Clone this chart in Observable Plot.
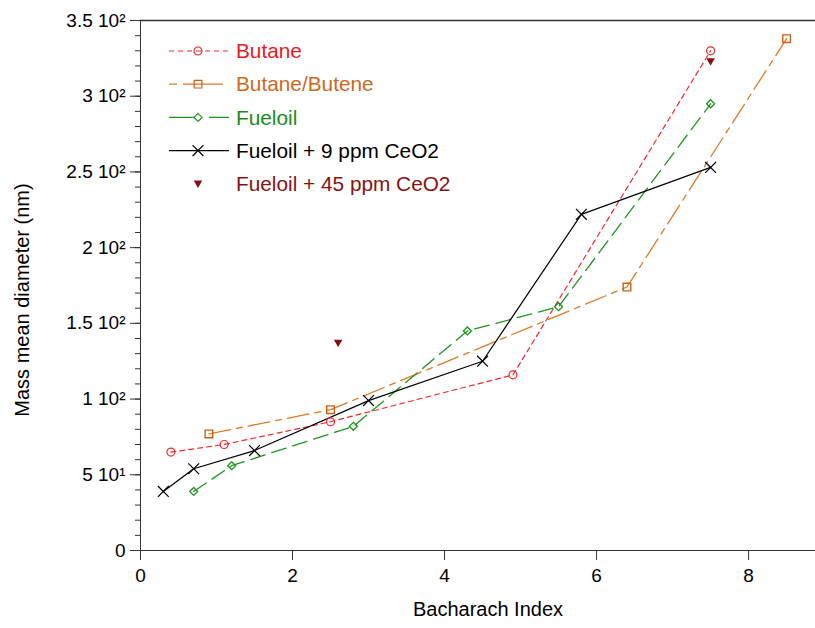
<!DOCTYPE html>
<html>
<head>
<meta charset="utf-8">
<script src="https://cdn.jsdelivr.net/npm/d3@7"></script>
<script src="https://cdn.jsdelivr.net/npm/@observablehq/plot@0.6"></script>
<style>
  body { margin: 0; background: #fff; }
  #wrap { position: relative; width: 815px; height: 628px; font-family: "Liberation Sans", Arial, sans-serif; }
  #legend { position: absolute; left: 0; top: 0; pointer-events: none; }
</style>
</head>
<body>
<div id="wrap"></div>
<script>
// ---- data ----
const seriesNames = ["Butane", "Butane/Butene", "Fueloil", "Fueloil + 9 ppm CeO2", "Fueloil + 45 ppm CeO2"];
const butaneX = [0.4, 1.1, 2.5, 4.9, 7.5];
const butaneY = [65, 70, 85, 116, 330];
const butbutX = [0.9, 2.5, 6.4, 8.5];
const butbutY = [77, 93, 174, 338];
const fueloilX = [0.7, 1.2, 2.8, 4.3, 5.5, 7.5];
const fueloilY = [39, 56, 82, 145, 161, 295];
const ceo9X = [0.3, 0.7, 1.5, 3.0, 4.5, 5.8, 7.5];
const ceo9Y = [39, 54, 66, 99, 125, 222, 253];
const ceo45X = [2.6, 7.5];
const ceo45Y = [137, 323];
const yMajorTicks = [0, 50, 100, 150, 200, 250, 300, 350];
const yTickLabels = ["0", "5 10¹", "1 10²", "1.5 10²", "2 10²", "2.5 10²", "3 10²", "3.5 10²"];
const xTicks = [0, 2, 4, 6, 8];
const xLabel = "Bacharach Index";
const yLabel = "Mass mean diameter (nm)";

const colors = {
  butane: "#f0282d",
  butbut: "#dd7a26",
  butbutMarker: "#cc6010",
  fueloil: "#1f951f",
  ceo9: "#000000",
  ceo45: "#861010"
};
const textColors = ["#e81a22", "#cc6a1c", "#1b8c1b", "#000000", "#861212"];

const toRows = (xs, ys) => xs.map((x, i) => ({x, y: ys[i]}));
const butane = toRows(butaneX, butaneY);
const butbut = toRows(butbutX, butbutY);
const fueloil = toRows(fueloilX, fueloilY);
const ceo9 = toRows(ceo9X, ceo9Y);
const ceo45 = toRows(ceo45X, ceo45Y);

const triangleDown = {
  draw(ctx, size) {
    const w = Math.sqrt(size) * 0.75;
    ctx.moveTo(-w, -w * 0.75);
    ctx.lineTo(w, -w * 0.75);
    ctx.lineTo(0, w * 1.0);
    ctx.closePath();
  }
};

const axisColor = "#333";
const fontSize = 19;

const chart = Plot.plot({
  width: 815,
  height: 628,
  marginLeft: 140,
  marginTop: 20,
  marginRight: 0,
  marginBottom: 78,
  style: {fontFamily: "Liberation Sans, Arial, sans-serif", fontSize: fontSize + "px", background: "#fff", color: "#000"},
  x: {domain: [0, 8.88]},
  y: {domain: [0, 350]},
  marks: [
    // minor y ticks
    Plot.axisY(d3.range(0, 351, 10), {tickSize: 5, text: null, stroke: axisColor, label: null}),
    Plot.axisY(yMajorTicks, {
      tickSize: 10, tickPadding: 5, stroke: axisColor,
      tickFormat: d => yTickLabels[yMajorTicks.indexOf(d)],
      fontSize: fontSize, label: null
    }),
    Plot.axisX(xTicks, {
      tickSize: 10, tickPadding: 8, stroke: axisColor, fontSize: fontSize, label: null
    }),
    Plot.ruleX([0], {stroke: axisColor}),
    Plot.ruleY([0], {stroke: axisColor}),
    Plot.ruleY([350], {stroke: axisColor, strokeWidth: 1.3}),
    // lines
    Plot.line(butane, {x: "x", y: "y", stroke: colors.butane, strokeWidth: 1.2, strokeDasharray: "5,4"}),
    Plot.line(butbut, {x: "x", y: "y", stroke: colors.butbut, strokeWidth: 1.3, strokeDasharray: "22,6,6,6"}),
    Plot.line(fueloil, {x: "x", y: "y", stroke: colors.fueloil, strokeWidth: 1.3, strokeDasharray: "15,7"}),
    Plot.line(ceo9, {x: "x", y: "y", stroke: colors.ceo9, strokeWidth: 1.2}),
    // markers
    Plot.dot(butane, {x: "x", y: "y", symbol: "circle", r: 4, stroke: colors.butane, fill: "none", strokeWidth: 1.2}),
    Plot.dot(butbut, {x: "x", y: "y", symbol: "square", r: 4.3, stroke: colors.butbutMarker, fill: "none", strokeWidth: 1.4}),
    Plot.dot(fueloil, {x: "x", y: "y", symbol: "diamond2", r: 3.6, stroke: colors.fueloil, fill: "none", strokeWidth: 1.3}),
    Plot.dot(ceo9, {x: "x", y: "y", symbol: "times", r: 5, stroke: colors.ceo9, fill: "none", strokeWidth: 1.2}),
    Plot.dot(ceo45, {x: "x", y: "y", symbol: triangleDown, r: 3.2, fill: colors.ceo45, stroke: "none"})
  ]
});
const wrap = document.getElementById("wrap");
wrap.appendChild(chart);

// ---- overlay: axis titles + legend ----
const svg = d3.select(wrap).append("svg").attr("id", "legend").attr("width", 815).attr("height", 628)
  .attr("font-family", "Liberation Sans, Arial, sans-serif");
svg.append("text").attr("x", 488).attr("y", 609).attr("dy", "0.35em")
  .attr("text-anchor", "middle").attr("font-size", "20px").attr("fill", "#000").text(xLabel);
svg.append("text").attr("transform", "translate(22,300) rotate(-90)").attr("dy", "0.35em")
  .attr("text-anchor", "middle").attr("font-size", "20px").attr("fill", "#000").text(yLabel);

const legendItems = [
  {name: seriesNames[0], color: colors.butane, markerColor: colors.butane, dash: "5,4", symbol: d3.symbolCircle, size: Math.PI * 16, line: true, fill: "none"},
  {name: seriesNames[1], color: colors.butbut, markerColor: colors.butbutMarker, dash: "8,6,40", symbol: d3.symbolSquare, size: Math.PI * 4.3 * 4.3, line: true, fill: "none"},
  {name: seriesNames[2], color: colors.fueloil, markerColor: colors.fueloil, dash: "26,14,40", symbol: d3.symbolDiamond2, size: Math.PI * 3.6 * 3.6, line: true, fill: "none"},
  {name: seriesNames[3], color: colors.ceo9, markerColor: colors.ceo9, dash: null, symbol: d3.symbolTimes, size: Math.PI * 5 * 5, line: true, fill: "none"},
  {name: seriesNames[4], color: colors.ceo45, markerColor: colors.ceo45, dash: null, symbol: triangleDown, size: Math.PI * 3.2 * 3.2, line: false, fill: colors.ceo45}
];
legendItems.forEach((it, i) => {
  const y = 51 + i * 33.2;
  const g = svg.append("g");
  if (it.line) {
    g.append("line").attr("x1", 169).attr("x2", 229).attr("y1", y).attr("y2", y)
      .attr("stroke", it.color).attr("stroke-width", 1.2)
      .attr("stroke-dasharray", it.dash);
  }
  g.append("path").attr("d", d3.symbol(it.symbol, it.size)())
    .attr("transform", `translate(198,${y})`)
    .attr("stroke", it.fill === "none" ? it.markerColor : "none")
    .attr("fill", it.fill).attr("stroke-width", 1.2);
  g.append("text").attr("x", 236).attr("y", y).attr("dy", "0.35em")
    .attr("fill", textColors[i]).attr("font-size", "20.8px")
    .text(it.name);
});
</script>
</body>
</html>
